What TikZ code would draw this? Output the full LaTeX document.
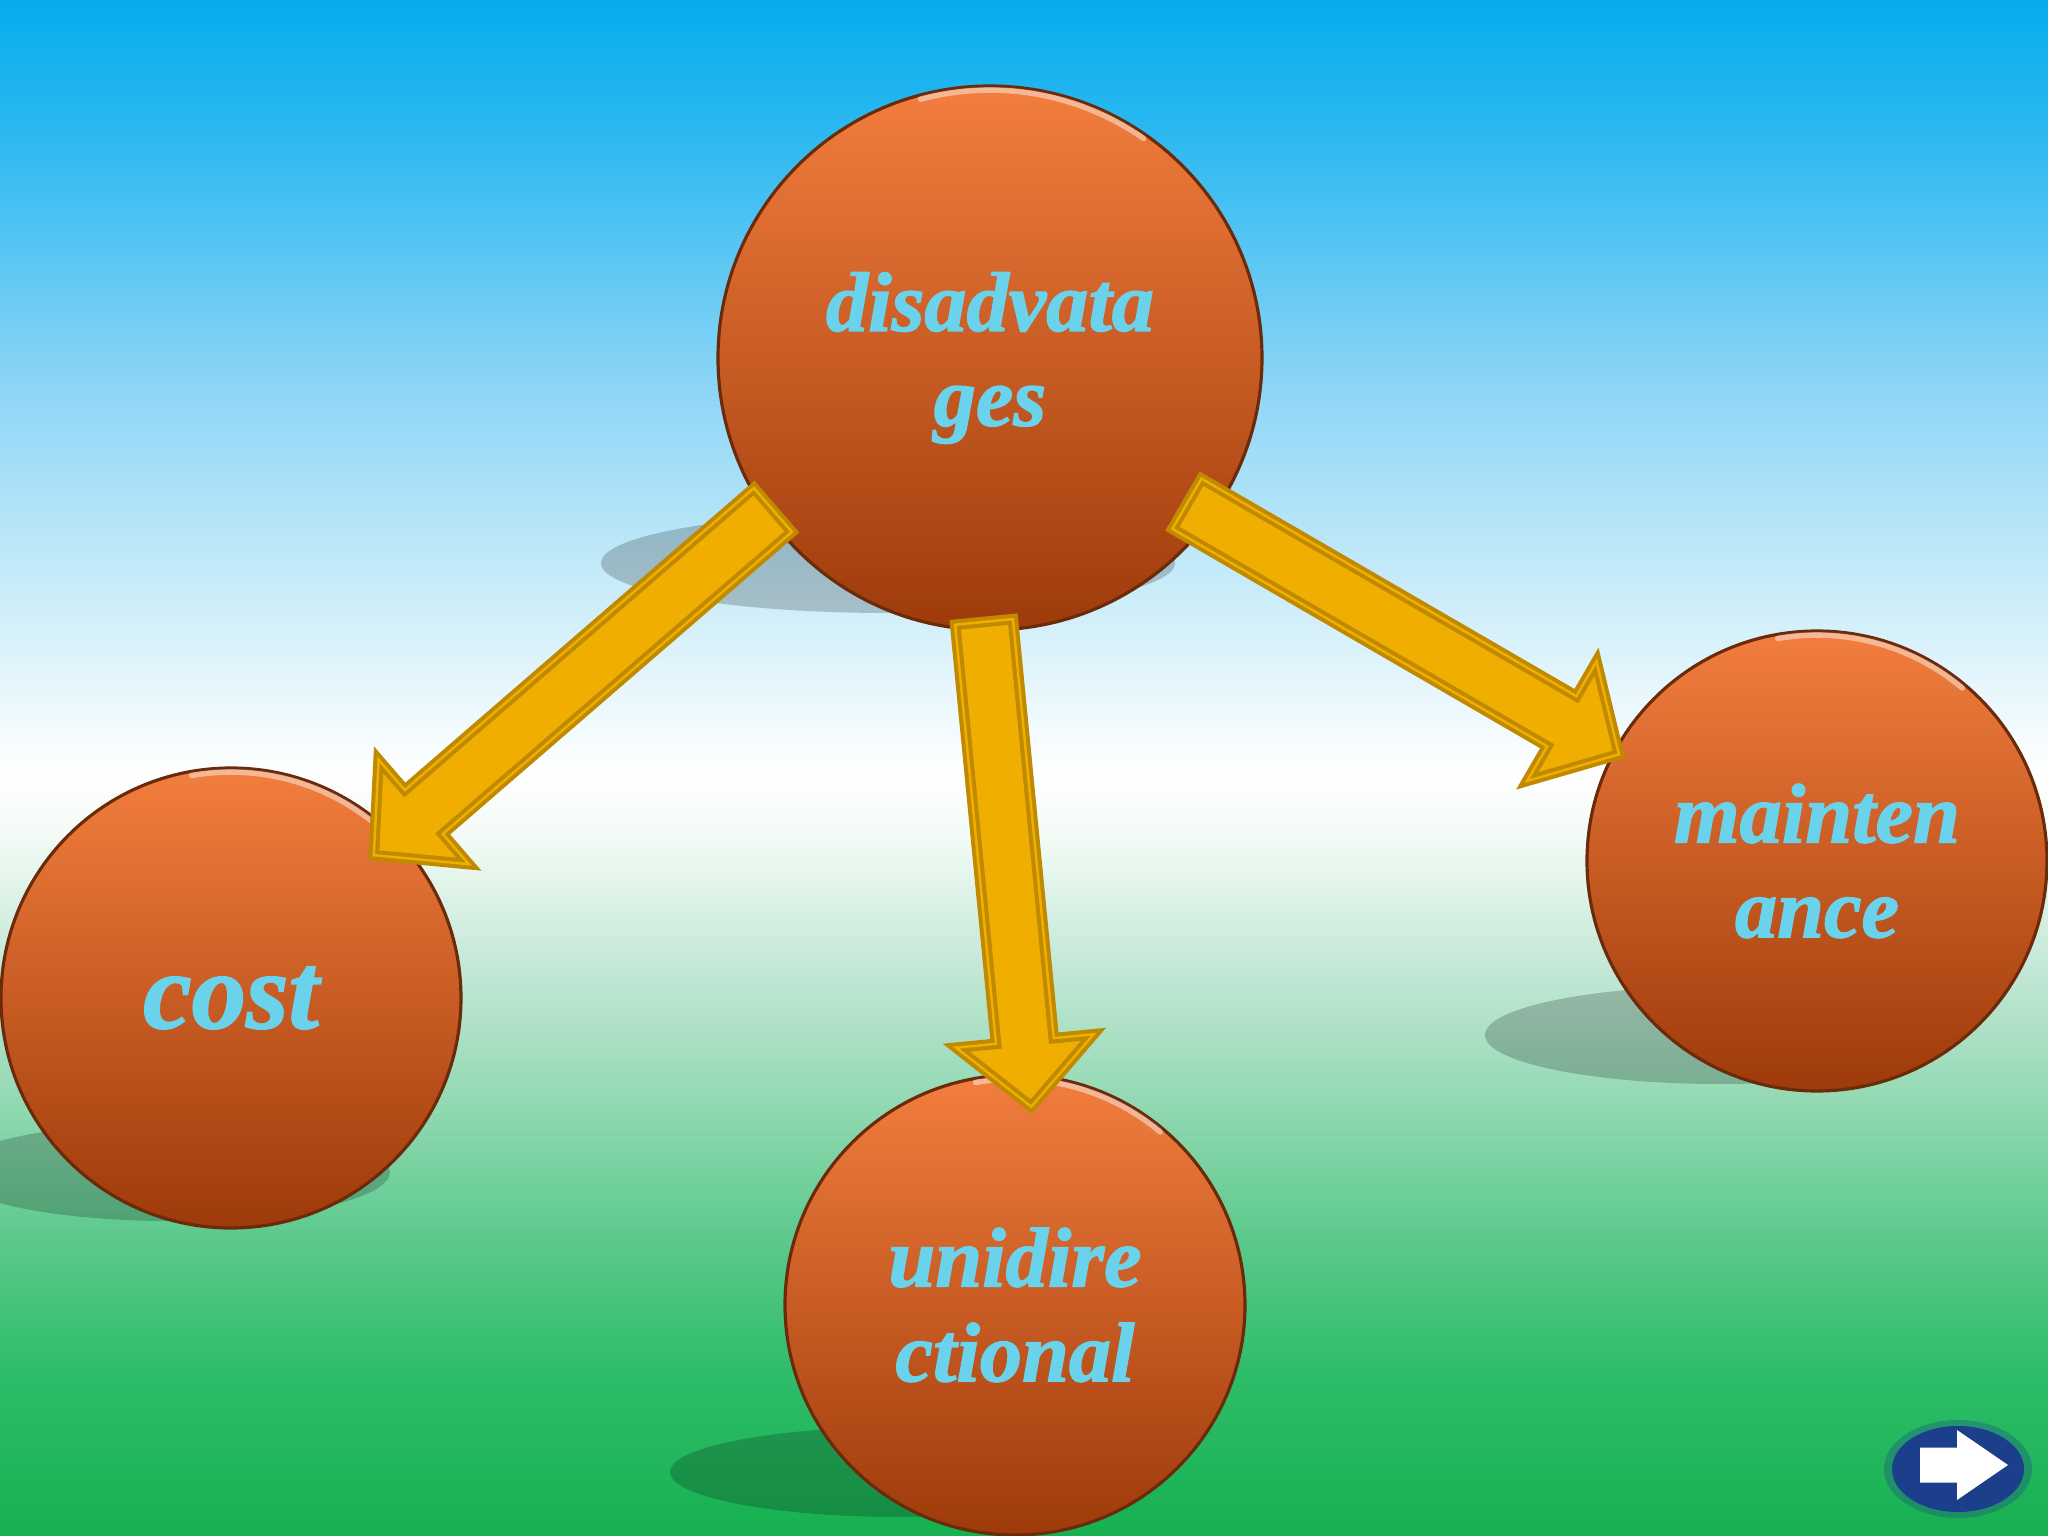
\documentclass[tikz,border=0pt]{standalone}
\usepackage{tikz}
\usepackage{fontspec}
\setmainfont{Liberation Serif}
\newfontfamily\wordfont{Liberation Serif}[FakeBold=1.6]
\usetikzlibrary{calc,shapes.geometric}

\definecolor{skytop}{HTML}{06ACEE}
\definecolor{sky1}{HTML}{2BB8F0}
\definecolor{sky2}{HTML}{8ED6F6}
\definecolor{sky3}{HTML}{C9ECF9}
\definecolor{haze}{HTML}{FFFFFF}
\definecolor{mint0}{HTML}{F3FBF6}
\definecolor{mint1}{HTML}{BFE6D3}
\definecolor{mint2}{HTML}{8FD8B0}
\definecolor{grass2}{HTML}{5BC98C}
\definecolor{grass1}{HTML}{2EBD6A}
\definecolor{grass}{HTML}{17B050}
\definecolor{balltop}{HTML}{F27E3E}
\definecolor{ballbot}{HTML}{9E3A0A}
\definecolor{balledge}{HTML}{6B2A0A}
\definecolor{arrowfill}{HTML}{EFAE00}
\definecolor{arrowdark}{HTML}{C08A00}
\definecolor{wordcyan}{HTML}{6AD2EA}
\definecolor{btnblue}{HTML}{1C3F8C}

\pgfdeclareverticalshading{skyfield}{100bp}{color(0bp)=(grass); color(25bp)=(grass);
  color(30.36bp)=(grass1); color(34.61bp)=(grass2); color(38.86bp)=(mint2);
  color(43.11bp)=(mint1); color(47.79bp)=(mint0); color(49.91bp)=(haze);
  color(55.87bp)=(sky3); color(62.24bp)=(sky2); color(70.75bp)=(sky1);
  color(75bp)=(skytop); color(100bp)=(skytop)}

% block arrow from #1 to #2, #3 names the neck point
\newcommand{\blockarrow}[3]{%
  \coordinate (#3) at ($(#2)!0.66cm!(#1)$);
  \draw[arrowbody] ($(#1)!0.29cm!90:(#2)$) -- ($(#3)!0.29cm!90:(#2)$)
    -- ($(#3)!0.69cm!90:(#2)$) -- (#2) -- ($(#3)!0.69cm!-90:(#2)$)
    -- ($(#3)!0.29cm!-90:(#2)$) -- ($(#1)!0.29cm!-90:(#2)$) -- cycle;
}

\begin{document}
\begin{tikzpicture}[
  ball/.style={circle, draw=balledge, line width=0.9pt, top color=balltop, bottom color=ballbot,
    minimum size=4.6cm, inner sep=0pt, align=center, text=wordcyan,
    font=\wordfont\bfseries\itshape\fontsize{24}{27}\selectfont},
  groundshadow/.style={fill=black, opacity=0.2},
  rimlight/.style={draw=white, opacity=0.45, line width=1.6pt, line cap=round},
  arrowbody/.style={fill=arrowfill, draw=arrowdark, line width=3pt, line join=miter,
    postaction={draw=arrowfill, line width=0.7pt}}
]

  \useasboundingbox (0,0) rectangle (20.48,-15.36);
  \clip (0,0) rectangle (20.48,-15.36);
  \fill[shading=skyfield] (0,0) rectangle (20.48,-15.36);

  % shadows on the ground
  \fill[groundshadow] (8.88,-5.63) ellipse (2.87 and 0.50);
  \fill[groundshadow] (1.70,-11.72) ellipse (2.20 and 0.49);
  \fill[groundshadow] (9.00,-14.72) ellipse (2.30 and 0.45);
  \fill[groundshadow] (17.20,-10.35) ellipse (2.35 and 0.49);

  \node[ball, minimum size=5.44cm] (top) at (9.90,-3.58) {disadvata\\ges};
  \node[ball, font=\wordfont\bfseries\itshape\fontsize{31}{34}\selectfont] (cost) at (2.31,-9.98) {cost};
  \node[ball] (unidir) at (10.15,-13.05) {unidire\\ctional};
  \node[ball] (maint) at (18.17,-8.61) {mainten\\ance};

  % light on the rims
  \draw[rimlight] ($(top)+(55:2.68)$) arc (55:105:2.68);
  \draw[rimlight] ($(cost)+(50:2.26)$) arc (50:100:2.26);
  \draw[rimlight] ($(unidir)+(50:2.26)$) arc (50:100:2.26);
  \draw[rimlight] ($(maint)+(50:2.26)$) arc (50:100:2.26);

  \coordinate (costs) at ($(top)+(215:2.65)$);
  \coordinate (costt) at ($(cost)+(45:2.02)$);
  \coordinate (unis) at ($(top)+(268.7:2.64)$);
  \coordinate (unit) at ($(unidir)+(85.3:1.99)$);
  \coordinate (mains) at ($(top)+(323.5:2.45)$);
  \coordinate (maint-t) at ($(maint)+(151.7:2.25)$);

  \blockarrow{costs}{costt}{costn}
  \blockarrow{unis}{unit}{unin}
  \blockarrow{mains}{maint-t}{mainn}

  % next button
  \coordinate (nextpos) at (19.58,-14.69);
  \fill[btnblue, opacity=0.3] (nextpos) ellipse (0.74 and 0.49);
  \node[ellipse, fill=btnblue, minimum width=1.32cm, minimum height=0.86cm, inner sep=0pt] (nextbtn) at (nextpos) {};
  \fill[white] ($(nextbtn)+(-0.38,0.215)$) -- ($(nextbtn)+(-0.01,0.215)$) -- ($(nextbtn)+(-0.01,0.39)$)
    -- ($(nextbtn)+(0.50,0.04)$) -- ($(nextbtn)+(-0.01,-0.31)$) -- ($(nextbtn)+(-0.01,-0.135)$)
    -- ($(nextbtn)+(-0.38,-0.135)$) -- cycle;

\end{tikzpicture}
\end{document}
